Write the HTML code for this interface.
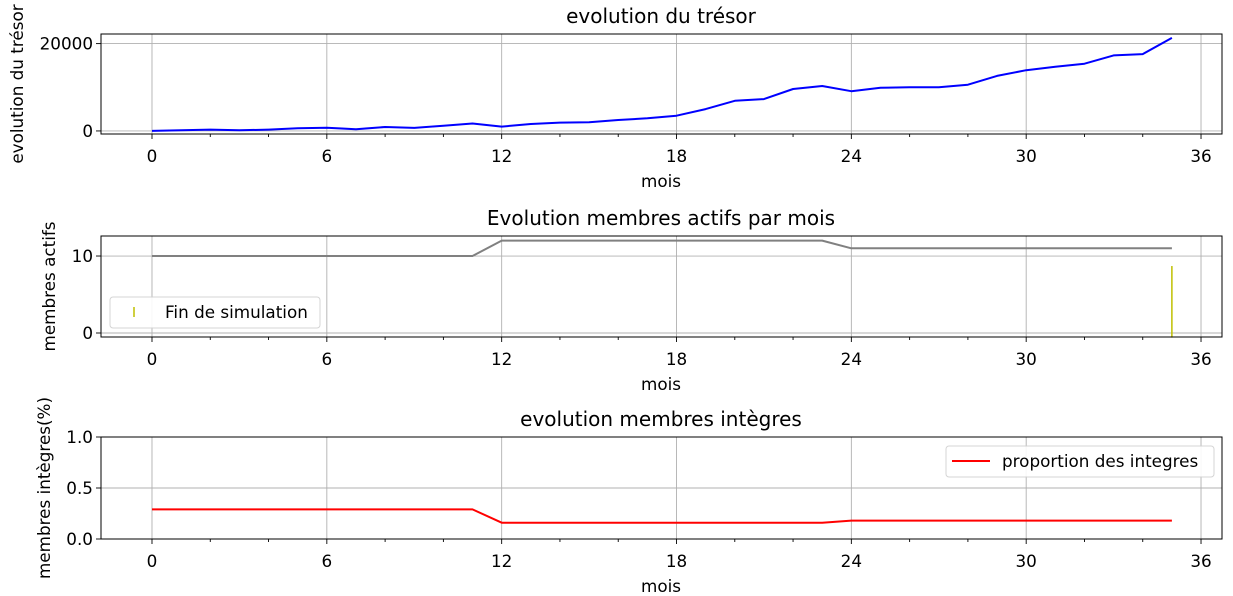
<!DOCTYPE html>
<html><head><meta charset="utf-8"><style>
body{margin:0;background:#fff;}
svg{display:block;font-family:"DejaVu Sans","Liberation Sans",sans-serif;}
</style></head><body>
<svg id="fig" width="1233" height="596" xmlns="http://www.w3.org/2000/svg"></svg>
<script>
const months = Array.from({length:36},(_,i)=>i);
const tresorValues = [0,150,300,150,300,600,750,400,900,700,1200,1700,1000,1600,1900,2000,2500,2900,3500,5000,6900,7300,9600,10300,9100,9900,10000,10000,10600,12600,13900,14700,15400,17300,17600,21300];
const membresValues = [10,10,10,10,10,10,10,10,10,10,10,10,12,12,12,12,12,12,12,12,12,12,12,12,11,11,11,11,11,11,11,11,11,11,11,11];
const integresValues = [0.29,0.29,0.29,0.29,0.29,0.29,0.29,0.29,0.29,0.29,0.29,0.29,0.16,0.16,0.16,0.16,0.16,0.16,0.16,0.16,0.16,0.16,0.16,0.16,0.18,0.18,0.18,0.18,0.18,0.18,0.18,0.18,0.18,0.18,0.18,0.18];
const xTicks = [0,6,12,18,24,30,36];
const finSimulation = [35];
const finRange = [8.7, -0.6];

const FS=16.8, TFS=20;
const NS="http://www.w3.org/2000/svg";
const fig=document.getElementById('fig');
function mk(tag,attrs,parent){const e=document.createElementNS(NS,tag);for(const k in attrs)e.setAttribute(k,attrs[k]);(parent||fig).appendChild(e);return e;}
function txt(s,attrs,parent){const t=mk('text',attrs,parent);t.textContent=s;return t;}

const X0=101,X1=1222,xmin=-1.75,xmax=36.72;
const xs=v=>X0+(v-xmin)/(xmax-xmin)*(X1-X0);

function panel(name,top,bot,ymin,ymax,yTicks,yFmt,title,ylabel,ylx){
  const g=mk('g',{});
  
  
  const ys=v=>bot-(v-ymin)/(ymax-ymin)*(bot-top);
  xTicks.forEach(t=>{mk('line',{x1:xs(t),x2:xs(t),y1:top,y2:bot,stroke:'#b0b0b0','stroke-width':0.9},g);});
  yTicks.forEach(t=>{mk('line',{x1:X0,x2:X1,y1:ys(t),y2:ys(t),stroke:'#b0b0b0','stroke-width':0.9},g);});
  for(let m=0;m<=36;m+=2){mk('line',{x1:xs(m),x2:xs(m),y1:bot,y2:bot+(m%6==0?5:3),stroke:'#000','stroke-width':0.9},g);}
  xTicks.forEach(t=>{const l=txt(String(t),{x:xs(t),y:bot+28,'font-size':FS,'text-anchor':'middle',fill:'#000'},g);
    });
  yTicks.forEach((t,i)=>{mk('line',{x1:X0-5,x2:X0,y1:ys(t),y2:ys(t),stroke:'#000','stroke-width':0.9},g);
    const l=txt(yFmt(t),{x:X0-8,y:ys(t)+6,'font-size':FS,'text-anchor':'end',fill:'#000'},g);
    });
  const xt=txt('mois',{x:661,y:bot+53,'font-size':FS,'text-anchor':'middle'},g);
  
  const tt=txt(title,{x:661,y:top-11,'font-size':TFS,'text-anchor':'middle'},g);
  
  const cy=(top+bot)/2;
  const yt=txt(ylabel,{x:0,y:0,'font-size':FS,'text-anchor':'middle',transform:`translate(${ylx},${cy}) rotate(-90)`},g);
  
  return {g,ys,top,bot};
}
function frame(p){mk('rect',{x:X0,y:p.top,width:X1-X0,height:p.bot-p.top,fill:'none',stroke:'#000','stroke-width':1},p.g);}
function line(p,vals,color,name){
  const d=vals.map((v,i)=>(i?'L':'M')+xs(months[i]).toFixed(1)+','+p.ys(v).toFixed(1)).join('');
  const e=mk('path',{d,fill:'none',stroke:color,'stroke-width':2,'stroke-linejoin':'round'},p.g);
  
}

const p1=panel('panel-tresor',34,134,-700,22200,[0,20000],v=>String(v),'evolution du trésor','evolution du trésor',23);
line(p1,tresorValues,'#0000ff','tresor-line');frame(p1);

const p2=panel('panel-membres',236,337,-0.52,12.6,[0,10],v=>String(v),'Evolution membres actifs par mois','membres actifs',55);
line(p2,membresValues,'#808080','membres-line');
finSimulation.forEach(m=>{const e=mk('line',{x1:xs(m),x2:xs(m),y1:p2.ys(finRange[0]),y2:p2.ys(finRange[1]),stroke:'#bfbf00','stroke-width':1.5},p2.g);
  });
frame(p2);
const lg2=mk('g',{},p2.g);

mk('rect',{x:110,y:297,width:210,height:31,rx:3,fill:'#fff',stroke:'#d0d0d0','stroke-width':1,opacity:0.9},lg2);
mk('line',{x1:134,x2:134,y1:307,y2:317,stroke:'#bfbf00','stroke-width':1.5},lg2);
txt('Fin de simulation',{x:165,y:318,'font-size':FS},lg2);

const p3=panel('panel-integres',437,539,0,1,[0,0.5,1],v=>v.toFixed(1),'evolution membres intègres','membres intègres(%)',50);
line(p3,integresValues,'#ff0000','integres-line');frame(p3);
const lg3=mk('g',{},p3.g);

mk('rect',{x:946,y:446,width:268,height:31,rx:3,fill:'#fff',stroke:'#d0d0d0','stroke-width':1,opacity:0.9},lg3);
mk('line',{x1:952,x2:990,y1:461,y2:461,stroke:'#ff0000','stroke-width':2},lg3);
txt('proportion des integres',{x:1002,y:467,'font-size':FS},lg3);
</script>
</body></html>
